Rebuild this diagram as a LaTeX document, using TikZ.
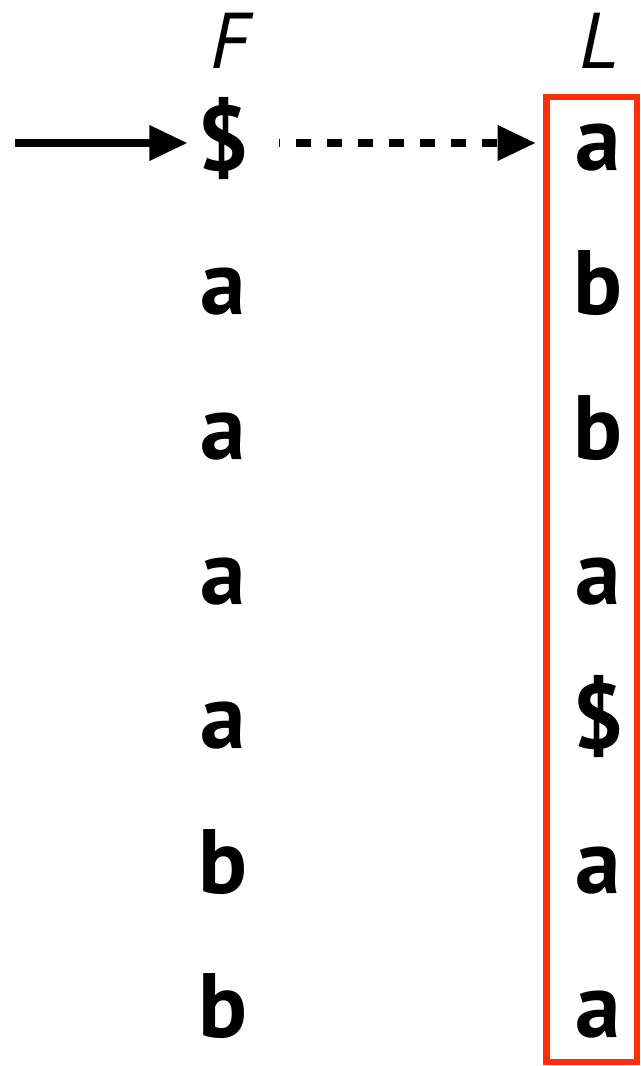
\documentclass[tikz,border=0pt]{standalone}
\usepackage{fontspec}
\setmainfont{PT Sans}
\usetikzlibrary{arrows.meta,positioning,calc}
\definecolor{ink}{HTML}{000000}
\definecolor{boxred}{HTML}{FF2D0A}

\begin{document}
\begin{tikzpicture}[
  >={Triangle[length=3.8mm,width=3.4mm]},
  every node/.append style={text=ink},
  sym/.style={font=\fontsize{26}{30}\selectfont\bfseries, anchor=base, inner sep=0pt},
  colhead/.style={font=\fontsize{22.5}{27}\selectfont\itshape, anchor=base, inner sep=0pt},
  arr/.style={draw=ink, line width=2pt, ->},
]
\useasboundingbox (0,0) rectangle (6.4,-10.66);
\def\fx{2.23}
\def\lx{5.98}
\def\topy{-1.705}
\def\rowgap{1.445}
% --- column heads ---
\node[colhead] (fhead) at (2.30,-0.685) {F};
\node[colhead] (lhead) at (5.99,-0.685) {L};
% --- F column: sorted symbols ---
\foreach \s [count=\i] in {\$,a,a,a,a,b,b} {
  \node[sym] (f\i) at (\fx,{\topy-(\i-1)*\rowgap}) {\s};
}
% --- L column: last symbols ---
\foreach \s [count=\i] in {a,b,b,a,\$,a,a} {
  \node[sym] (l\i) at (\lx,{\topy-(\i-1)*\rowgap}) {\s};
}
% red frame round the L column
\draw[boxred, line width=1.8pt] (5.465,-0.97) rectangle (6.37,-10.62);
% --- arrows on the first row ---
\coordinate (entry) at (0.15,-1.43);
\draw[arr] (entry) -- ([xshift=-0.9mm]f1.west |- entry);
\draw[arr, dash pattern=on 1.5mm off 1.6mm, dash phase=1.4mm]
  ([xshift=2.9mm]f1.east |- entry) -- ([xshift=-3.9mm]l1.west |- entry);
\end{tikzpicture}
\end{document}
